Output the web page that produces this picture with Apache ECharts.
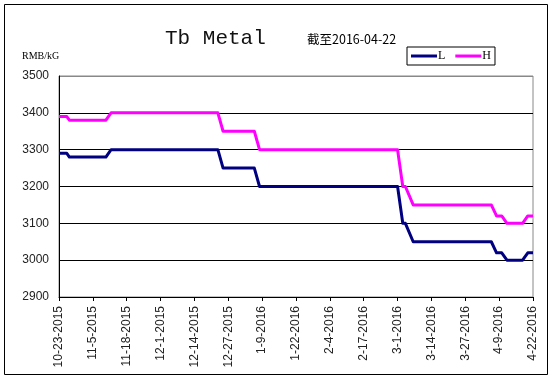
<!DOCTYPE html>
<html>
<head>
<meta charset="utf-8">
<script src="https://cdn.jsdelivr.net/npm/echarts@6/dist/echarts.min.js"></script>
<style>html,body{margin:0;padding:0;background:#fff;}#c{width:554px;height:381px;}</style>
</head>
<body>
<div id="c"></div>
<script>
// Data
const dates = ['2015-10-23','2015-10-26','2015-10-27','2015-11-10','2015-11-12','2015-12-23','2015-12-25','2016-01-06','2016-01-08','2016-03-01','2016-03-03','2016-03-04','2016-03-07','2016-04-06','2016-04-08','2016-04-10','2016-04-12','2016-04-18','2016-04-20','2016-04-22'];
const lowValues  = [3290,3290,3280,3280,3300,3300,3250,3250,3200,3200,3100,3100,3050,3050,3020,3020,3000,3000,3020,3020];
const highValues = [3390,3390,3380,3380,3400,3400,3350,3350,3300,3300,3200,3200,3150,3150,3120,3120,3100,3100,3120,3120];
const seriesNames = ['L','H'];
const startDate = '2015-10-23';
const endDate = '2016-04-22';
const tickDays = 13;
const yTicks = [2900,3000,3100,3200,3300,3400,3500];

const DAY = 86400000;
const t0 = Date.parse(startDate + 'T00:00:00Z');
const dayOf = s => Math.round((Date.parse(s + 'T00:00:00Z') - t0) / DAY);
const lowData = dates.map((d, i) => [dayOf(d), lowValues[i]]);
const highData = dates.map((d, i) => [dayOf(d), highValues[i]]);
const fmt = v => {
  const d = new Date(t0 + v * DAY);
  return (d.getUTCMonth() + 1) + '-' + d.getUTCDate() + '-' + d.getUTCFullYear();
};

const chart = echarts.init(document.getElementById('c'), null, {renderer: 'canvas'});
chart.setOption({
  animation: false,
  backgroundColor: '#fff',
  title: [
    {text: 'Tb Metal', left: 160, top: 23, textStyle: {fontFamily: 'Liberation Mono', fontSize: 21, fontWeight: 'normal', color: '#111'}},
    {text: '截至2016-04-22', left: 302, top: 28, textStyle: {fontFamily: 'Noto Sans CJK SC', fontSize: 12.5, fontWeight: 'normal', color: '#000'}},
    {text: 'RMB/kG', left: 17, top: 46, textStyle: {fontFamily: 'Liberation Serif', fontSize: 10, fontWeight: 'normal', color: '#000'}}
  ],
  legend: {
    data: seriesNames, left: 407, top: 47, orient: 'horizontal',
    icon: 'rect', itemWidth: 26, itemHeight: 3, itemGap: 10,
    borderColor: '#000', borderWidth: 1, padding: [3, 4, 3, 4],
    textStyle: {fontFamily: 'Liberation Serif', fontSize: 12, color: '#000', padding: [0, 0, 0, -4]}
  },
  grid: {left: 59, right: 21, top: 76, bottom: 84, show: true, borderColor: '#888', borderWidth: 1},
  xAxis: {
    type: 'value', min: 0, max: dayOf(endDate), interval: tickDays,
    axisLine: {show: true, lineStyle: {color: '#000', width: 1}},
    axisTick: {show: true, length: 4, lineStyle: {color: '#000'}},
    splitLine: {show: false},
    axisLabel: {rotate: 90, margin: 9, formatter: fmt, fontFamily: 'Liberation Sans', fontSize: 12, color: '#222'}
  },
  yAxis: {
    type: 'value', min: yTicks[0], max: yTicks[yTicks.length - 1], interval: 100,
    axisLine: {show: true, lineStyle: {color: '#000', width: 1}},
    axisTick: {show: false},
    splitLine: {show: true, lineStyle: {color: ['#000','#000','#000','#000','#000','#000','#888'], width: 1}},
    axisLabel: {margin: 10, formatter: v => String(v), fontFamily: 'Liberation Sans', fontSize: 12, color: '#222'}
  },
  series: [
    {name: seriesNames[0], type: 'line', data: lowData, showSymbol: false, symbol: 'none', color: '#000080', lineStyle: {width: 3, color: '#000080', join: 'round'}},
    {name: seriesNames[1], type: 'line', data: highData, showSymbol: false, symbol: 'none', color: '#ff00ff', lineStyle: {width: 3, color: '#ff00ff', join: 'round'}}
  ],
  graphic: [
    {type: 'rect', shape: {x: 4.5, y: 4.5, width: 543, height: 370}, style: {fill: 'none', stroke: '#000', lineWidth: 1}, silent: true}
  ]
});
</script>
</body>
</html>
